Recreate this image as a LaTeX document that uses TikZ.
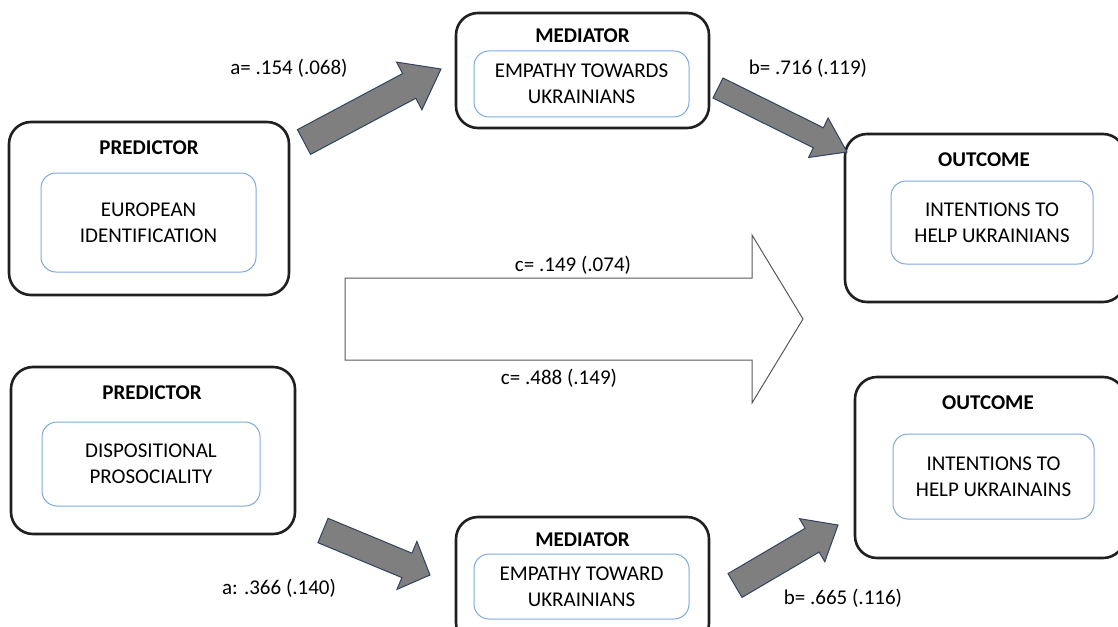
\documentclass[tikz,border=0pt]{standalone}
\usepackage{fontspec}
\setmainfont{Carlito}
\usetikzlibrary{calc}

\definecolor{innerblue}{RGB}{125,170,222}
\definecolor{arrowgray}{RGB}{127,127,127}
\definecolor{arrowedge}{RGB}{52,66,96}

% block arrow: style, tail, tip, shaft half width, head half width, head length
\newcommand{\blockarr}[6]{%
  \coordinate (hb) at ($(#3)!#6!(#2)$);
  \draw[#1] ($(#2)!#4!90:(#3)$) -- ($(hb)!#4!90:(#3)$) -- ($(hb)!#5!90:(#3)$)
    -- (#3) -- ($(hb)!#5!-90:(#3)$) -- ($(hb)!#4!-90:(#3)$)
    -- ($(#2)!#4!-90:(#3)$) -- cycle;}

\begin{document}
\begin{tikzpicture}[x=0.5pt,y=-0.5pt,font=\fontsize{10.5}{12.8}\selectfont]
  \tikzstyle{outer}=[draw=black!88,line width=1.3pt,rounded corners=11pt,inner sep=0pt]
  \tikzstyle{inner}=[draw=innerblue,line width=0.5pt,rounded corners=7.5pt,align=center,inner sep=0pt]
  \tikzstyle{title}=[font=\fontsize{10.5}{12.8}\selectfont\bfseries]
  \tikzstyle{gray arrow}=[fill=arrowgray,draw=arrowedge,line width=0.5pt,line join=miter]
  \tikzstyle{white arrow}=[fill=white,draw=black!65,line width=0.5pt]

  \useasboundingbox (0,0) rectangle (1118,626);
  \clip (0,0) rectangle (1118,626);

  % predictor 1
  \node[outer,minimum width=140pt,minimum height=86.5pt] (P1) at (149,208.5) {};
  \node[title] (P1t) at (149,148) {PREDICTOR};
  \node[inner,minimum width=107.5pt,minimum height=49.5pt] (P1i) at (148.5,222.5)
       {EUROPEAN\\IDENTIFICATION};

  % mediator 1
  \node[outer,minimum width=126.5pt,minimum height=57.5pt] (M1) at (582.5,70.5) {};
  \node[title] (M1t) at (582.5,36) {MEDIATOR};
  \node[inner,minimum width=107.5pt,minimum height=33pt] (M1i) at (581.5,84)
       {EMPATHY TOWARDS\\UKRAINIANS};

  % outcome 1
  \node[outer,minimum width=140pt,minimum height=84pt] (O1) at (985,218) {};
  \node[title] (O1t) at (984,160) {OUTCOME};
  \node[inner,minimum width=101pt,minimum height=41.5pt] (O1i) at (992,222.5)
       {INTENTIONS TO\\HELP UKRAINIANS};

  % predictor 2
  \node[outer,minimum width=142pt,minimum height=83.5pt] (P2) at (153,450.5) {};
  \node[title] (P2t) at (152,393) {PREDICTOR};
  \node[inner,minimum width=109pt,minimum height=42pt] (P2i) at (151,464)
       {DISPOSITIONAL\\PROSOCIALITY};

  % outcome 2
  \node[outer,minimum width=135pt,minimum height=90.5pt] (O2) at (990,467.5) {};
  \node[title] (O2t) at (988,403) {OUTCOME};
  \node[inner,minimum width=100.5pt,minimum height=42.5pt] (O2i) at (993.5,476.5)
       {INTENTIONS TO\\HELP UKRAINAINS};

  % mediator 2
  \node[outer,minimum width=126.5pt,minimum height=64pt] (M2) at (582.5,581) {};
  \node[title] (M2t) at (582.5,540) {MEDIATOR};
  \node[inner,minimum width=107.5pt,minimum height=32.5pt] (M2i) at (581.5,586.5)
       {EMPATHY TOWARD\\UKRAINIANS};

  % arrow ends
  \coordinate (a1s) at (304,142);   \coordinate (a1e) at (441,69);
  \coordinate (b1s) at (718,88);    \coordinate (b1e) at (847,152);
  \coordinate (a2s) at (323,530.5); \coordinate (a2e) at (430,575);
  \coordinate (b2s) at (735,585.5); \coordinate (b2e) at (838,525);
  \coordinate (cs)  at (345,319);   \coordinate (ce)  at (803,319);

  \blockarr{gray arrow}{a1s}{a1e}{7pt}{13.5pt}{18pt}
  \blockarr{gray arrow}{b1s}{b1e}{5.6pt}{11pt}{16pt}
  \blockarr{gray arrow}{a2s}{a2e}{6.6pt}{13pt}{12.5pt}
  \blockarr{gray arrow}{b2s}{b2e}{6.9pt}{12.5pt}{15pt}
  \blockarr{white arrow}{cs}{ce}{20.5pt}{42pt}{25.5pt}

  % path coefficients
  \node (la1) at (289,68)  {a= .154 (.068)};
  \node (lb1) at (808,68)  {b= .716 (.119)};
  \node (lc1) at (573,265) {c= .149 (.074)};
  \node (lc2) at (559,378) {c= .488 (.149)};
  \node (la2) at (279,588) {a: .366 (.140)};
  \node (lb2) at (843,598) {b= .665 (.116)};
\end{tikzpicture}
\end{document}
